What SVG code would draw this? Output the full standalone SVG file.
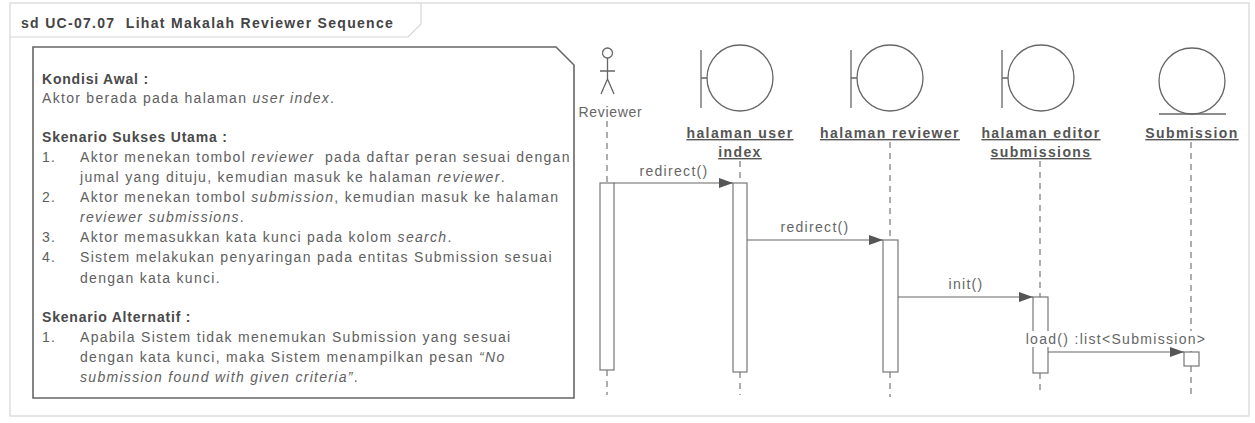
<svg xmlns="http://www.w3.org/2000/svg" width="1255" height="423" viewBox="0 0 1255 423">
<defs>
<marker id="arr" viewBox="0 0 14 10" refX="14" refY="5" markerWidth="14" markerHeight="10" markerUnits="userSpaceOnUse" orient="auto"><path d="M0,0 L14,5 L0,10 Z" fill="#555"/></marker>
</defs>
<style>
.t{font-family:"Liberation Sans",Arial,sans-serif;font-size:14px;fill:#606060;letter-spacing:1.3px;white-space:pre}
.h{font-weight:bold;fill:#4a4a4a;letter-spacing:0.8px}
.i{font-style:italic}
.title{font-family:"Liberation Sans",Arial,sans-serif;font-size:14px;font-weight:bold;fill:#444;letter-spacing:1.3px;white-space:pre}
.lbl{font-family:"Liberation Sans",Arial,sans-serif;font-size:14px;font-weight:bold;fill:#555;letter-spacing:1.4px;text-anchor:middle;text-decoration:underline}
.msg{font-family:"Liberation Sans",Arial,sans-serif;font-size:14px;fill:#666;letter-spacing:1.3px;text-anchor:middle}
.life{stroke:#777;stroke-width:1.2;stroke-dasharray:6 5;fill:none}
.act{fill:#fff;stroke:#777;stroke-width:1.2}
.shape{fill:none;stroke:#666;stroke-width:1.3}
.line{stroke:#666;stroke-width:1.2;fill:none}
.frame{fill:none;stroke:#d6d6d6;stroke-width:1.2}
</style>
<rect width="1255" height="423" fill="#ffffff"/>
<g id="frame">
<rect class="frame" x="10" y="3" width="1239" height="413"/>
<path class="frame" d="M10,37 H408 L421,24 V3"/>
<text class="title" x="21" y="27.5" xml:space="preserve">sd UC-07.07  Lihat Makalah Reviewer Sequence</text>
</g>
<g id="note">
<path d="M33,47 H556 L574,65 V398 H33 Z" fill="#fff" stroke="#666" stroke-width="1.6"/>
<text class="t h" x="42" y="83.5">Kondisi Awal :</text>
<text class="t" x="42" y="103.4">Aktor berada pada halaman <tspan class="i">user index</tspan>.</text>
<text class="t h" x="42" y="142">Skenario Sukses Utama :</text>
<text class="t" x="42" y="162">1.</text>
<text class="t" x="80" y="162" xml:space="preserve">Aktor menekan tombol <tspan class="i">reviewer</tspan>  pada daftar peran sesuai dengan</text>
<text class="t" x="80" y="182">jumal yang dituju, kemudian masuk ke halaman <tspan class="i">reviewer</tspan>.</text>
<text class="t" x="42" y="202">2.</text>
<text class="t" x="80" y="202">Aktor menekan tombol <tspan class="i">submission</tspan>, kemudian masuk ke halaman</text>
<text class="t i" x="80" y="222">reviewer submissions<tspan font-style="normal">.</tspan></text>
<text class="t" x="42" y="242">3.</text>
<text class="t" x="80" y="242">Aktor memasukkan kata kunci pada kolom <tspan class="i">search</tspan>.</text>
<text class="t" x="42" y="262">4.</text>
<text class="t" x="80" y="262">Sistem melakukan penyaringan pada entitas Submission sesuai</text>
<text class="t" x="80" y="282.5">dengan kata kunci.</text>
<text class="t h" x="42" y="322.3">Skenario Alternatif :</text>
<text class="t" x="42" y="342.2">1.</text>
<text class="t" x="80" y="342.2">Apabila Sistem tidak menemukan Submission yang sesuai</text>
<text class="t" x="80" y="362.1">dengan kata kunci, maka Sistem menampilkan pesan <tspan class="i">“No</tspan></text>
<text class="t i" x="80" y="382">submission found with given criteria”<tspan font-style="normal">.</tspan></text>
</g>
<g id="actor-reviewer">
<circle class="shape" cx="607.5" cy="53" r="5"/>
<path class="shape" d="M607.5,58 V79 M600,71 H615 M607.5,79 L601,94 M607.5,79 L614,94"/>
<text class="msg" x="610.5" y="117" style="letter-spacing:0.7px">Reviewer</text>
<path class="life" d="M607,121 V183 M607,370 V395"/>
<rect class="act" x="600" y="183" width="14" height="187"/>
</g>
<g id="boundary-user-index">
<circle class="shape" cx="740" cy="78" r="33"/>
<path class="shape" d="M701,50 V108 M701,78 H707"/>
<text class="lbl" x="740" y="138">halaman user</text>
<text class="lbl" x="740" y="157">index</text>
<path class="life" d="M740,161 V183 M740,372 V395"/>
<rect class="act" x="733" y="183" width="14" height="189"/>
</g>
<g id="boundary-halaman-reviewer">
<circle class="shape" cx="890" cy="78" r="33"/>
<path class="shape" d="M851,50 V108 M851,78 H857"/>
<text class="lbl" x="890" y="138">halaman reviewer</text>
<path class="life" d="M890,142 V240 M890,372 V397"/>
<rect class="act" x="883" y="240" width="15" height="132"/>
</g>
<g id="boundary-editor-submissions">
<circle class="shape" cx="1041" cy="78" r="33"/>
<path class="shape" d="M1002,50 V108 M1002,78 H1008"/>
<text class="lbl" x="1041" y="138">halaman editor</text>
<text class="lbl" x="1041" y="157">submissions</text>
<path class="life" d="M1040,161 V297 M1040,373 V395"/>
<rect class="act" x="1033" y="297" width="15" height="76"/>
</g>
<g id="entity-submission">
<circle class="shape" cx="1192" cy="81" r="33"/>
<path class="shape" d="M1159,114 H1226"/>
<text class="lbl" x="1192" y="138">Submission</text>
<path class="life" d="M1191,142 V352 M1191,366 V395"/>
<rect class="act" x="1184" y="352" width="15" height="14"/>
</g>
<g id="connectors">
<path class="line" d="M614,183 H733" marker-end="url(#arr)"/>
<text class="msg" x="674" y="176">redirect()</text>
<path class="line" d="M747,240 H883" marker-end="url(#arr)"/>
<text class="msg" x="815" y="232">redirect()</text>
<path class="line" d="M898,297 H1033" marker-end="url(#arr)"/>
<text class="msg" x="966" y="289">init()</text>
<rect x="1027" y="331" width="178" height="16" fill="#fff"/>
<path class="line" d="M1048,352 H1184" marker-end="url(#arr)"/>
<text class="msg" x="1116" y="344">load() :list&lt;Submission&gt;</text>
</g>
</svg>
